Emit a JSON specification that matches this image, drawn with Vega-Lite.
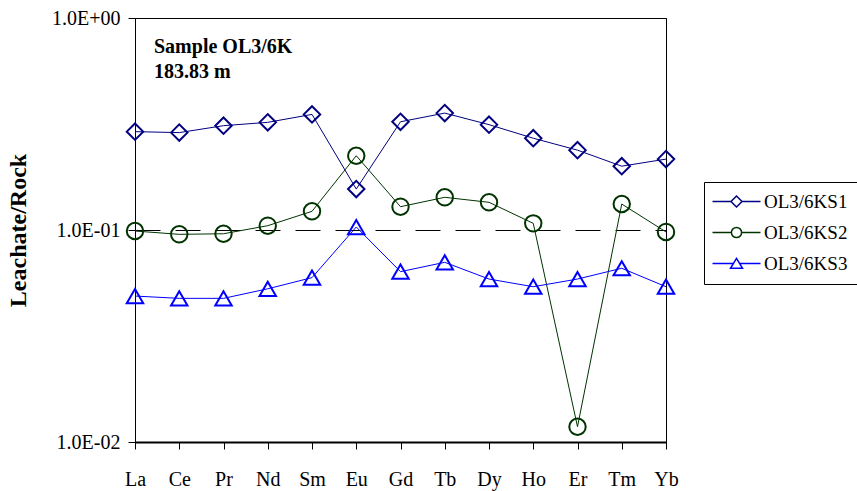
{
  "$schema": "https://vega.github.io/schema/vega-lite/v6.json",
  "width": 531,
  "height": 424,
  "autosize": {"type": "none"},
  "padding": {"left": 135, "top": 18, "right": 191, "bottom": 49},
  "background": "white",
  "title": {
    "text": ["Sample OL3/6K", "183.83 m"],
    "anchor": "start",
    "frame": "group",
    "orient": "top",
    "align": "left",
    "baseline": "top",
    "offset": -74,
    "dx": 19,
    "font": "Liberation Serif",
    "fontSize": 20,
    "fontWeight": "bold",
    "lineHeight": 25.5,
    "color": "black"
  },
  "config": {
    "view": {"stroke": "black", "strokeWidth": 1},
    "axis": {
      "labelFont": "Liberation Serif",
      "titleFont": "Liberation Serif",
      "labelColor": "black",
      "titleColor": "black",
      "labelFontSize": 20,
      "tickColor": "black",
      "domainColor": "black",
      "tickSize": 7
    }
  },
  "data": {
    "values": [
      {"element": "La", "series": "OL3/6KS1", "value": 0.291},
      {"element": "Ce", "series": "OL3/6KS1", "value": 0.288},
      {"element": "Pr", "series": "OL3/6KS1", "value": 0.3105},
      {"element": "Nd", "series": "OL3/6KS1", "value": 0.322},
      {"element": "Sm", "series": "OL3/6KS1", "value": 0.351},
      {"element": "Eu", "series": "OL3/6KS1", "value": 0.156},
      {"element": "Gd", "series": "OL3/6KS1", "value": 0.324},
      {"element": "Tb", "series": "OL3/6KS1", "value": 0.356},
      {"element": "Dy", "series": "OL3/6KS1", "value": 0.314},
      {"element": "Ho", "series": "OL3/6KS1", "value": 0.271},
      {"element": "Er", "series": "OL3/6KS1", "value": 0.238},
      {"element": "Tm", "series": "OL3/6KS1", "value": 0.200},
      {"element": "Yb", "series": "OL3/6KS1", "value": 0.216},
      {"element": "La", "series": "OL3/6KS2", "value": 0.0989},
      {"element": "Ce", "series": "OL3/6KS2", "value": 0.0954},
      {"element": "Pr", "series": "OL3/6KS2", "value": 0.0960},
      {"element": "Nd", "series": "OL3/6KS2", "value": 0.1048},
      {"element": "Sm", "series": "OL3/6KS2", "value": 0.1225},
      {"element": "Eu", "series": "OL3/6KS2", "value": 0.224},
      {"element": "Gd", "series": "OL3/6KS2", "value": 0.1288},
      {"element": "Tb", "series": "OL3/6KS2", "value": 0.1426},
      {"element": "Dy", "series": "OL3/6KS2", "value": 0.1351},
      {"element": "Ho", "series": "OL3/6KS2", "value": 0.1075},
      {"element": "Er", "series": "OL3/6KS2", "value": 0.0118},
      {"element": "Tm", "series": "OL3/6KS2", "value": 0.1326},
      {"element": "Yb", "series": "OL3/6KS2", "value": 0.0979},
      {"element": "La", "series": "OL3/6KS3", "value": 0.0488},
      {"element": "Ce", "series": "OL3/6KS3", "value": 0.0476},
      {"element": "Pr", "series": "OL3/6KS3", "value": 0.0476},
      {"element": "Nd", "series": "OL3/6KS3", "value": 0.0528},
      {"element": "Sm", "series": "OL3/6KS3", "value": 0.0596},
      {"element": "Eu", "series": "OL3/6KS3", "value": 0.1033},
      {"element": "Gd", "series": "OL3/6KS3", "value": 0.0636},
      {"element": "Tb", "series": "OL3/6KS3", "value": 0.0704},
      {"element": "Dy", "series": "OL3/6KS3", "value": 0.0587},
      {"element": "Ho", "series": "OL3/6KS3", "value": 0.0540},
      {"element": "Er", "series": "OL3/6KS3", "value": 0.0587},
      {"element": "Tm", "series": "OL3/6KS3", "value": 0.0660},
      {"element": "Yb", "series": "OL3/6KS3", "value": 0.0540}
    ]
  },
  "encoding": {
    "x": {
      "field": "element",
      "type": "nominal",
      "sort": null,
      "scale": {"type": "point", "padding": 0, "domain": ["La","Ce","Pr","Nd","Sm","Eu","Gd","Tb","Dy","Ho","Er","Tm","Yb"]},
      "axis": {"title": null, "labelAngle": 0, "labelPadding": 20, "domainWidth": 2, "grid": false, "labelBaseline": "top"}
    },
    "y": {
      "field": "value",
      "type": "quantitative",
      "scale": {"type": "log", "domain": [0.01, 1], "nice": false},
      "axis": {
        "title": "Leachate/Rock",
        "titleFontSize": 24,
        "titleFontWeight": "bold",
        "titlePadding": 21,
        "values": [0.01, 0.1, 1],
        "labelExpr": "datum.value > 0.5 ? '1.0E+00' : (datum.value > 0.05 ? '1.0E-01' : '1.0E-02')",
        "labelPadding": 8,
        "domainWidth": 1,
        "grid": true,
        "gridColor": "black",
        "gridDash": [25, 15],
        "gridWidth": 1,
        "gridOpacity": 1
      }
    }
  },
  "layer": [
    {
      "mark": {"type": "line", "strokeWidth": 1},
      "encoding": {
        "color": {
          "field": "series", "type": "nominal",
          "scale": {"domain": ["OL3/6KS1","OL3/6KS2","OL3/6KS3"], "range": ["#000080","#003300","#0000FF"]},
          "legend": null
        },
        "detail": {"field": "series"}
      }
    },
    {
      "mark": {"type": "point", "filled": false, "strokeWidth": 2, "size": 270, "opacity": 1},
      "encoding": {
        "color": {
          "field": "series", "type": "nominal",
          "scale": {"domain": ["OL3/6KS1","OL3/6KS2","OL3/6KS3"], "range": ["#000080","#003300","#0000FF"]},
          "legend": null
        },
        "shape": {
          "field": "series", "type": "nominal",
          "scale": {"domain": ["OL3/6KS1","OL3/6KS2","OL3/6KS3"], "range": ["diamond","circle","triangle-up"]},
          "legend": null
        }
      }
    },
    {
      "transform": [{"filter": "false"}],
      "mark": {"type": "point", "filled": false, "strokeWidth": 1.5},
      "encoding": {
        "x": {"value": 0},
        "y": {"value": 0},
        "color": {
          "field": "series", "type": "nominal",
          "scale": {"domain": ["OL3/6KS1","OL3/6KS2","OL3/6KS3"], "range": ["#000080","#003300","#0000FF"]},
          "legend": {
            "title": null,
            "orient": "none",
            "legendX": 569,
            "legendY": 164,
            "strokeColor": "black",
            "fillColor": "white",
            "padding": 10,
            "symbolSize": 144,
            "symbolOffset": 13,
            "labelOffset": 18,
            "symbolStrokeWidth": 1.5,
            "symbolOpacity": 1,
            "labelFont": "Liberation Serif",
            "labelFontSize": 19,
            "labelColor": "black",
            "rowPadding": 11
          }
        },
        "shape": {
          "field": "series", "type": "nominal",
          "scale": {"domain": ["OL3/6KS1","OL3/6KS2","OL3/6KS3"], "range": [
            "M-4,0H-0.92M0.92,0H4M0,-0.92L0.92,0L0,0.92L-0.92,0Z",
            "M-4,0H-0.85M0.85,0H4M-0.85,0A0.85,0.85,0,1,0,0.85,0A0.85,0.85,0,1,0,-0.85,0Z",
            "M-4,0H-0.52M0.52,0H4M0,-0.85L1,0.8L-1,0.8Z"
          ]},
          "legend": {
            "title": null,
            "orient": "none",
            "legendX": 569,
            "legendY": 164
          }
        }
      }
    }
  ],
  "resolve": {"scale": {"color": "independent", "shape": "independent"}}
}
